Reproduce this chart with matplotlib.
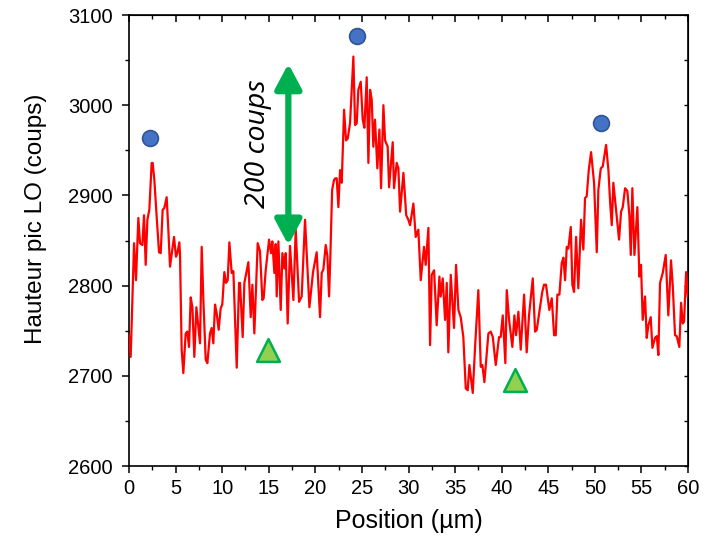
import matplotlib
matplotlib.use("Agg")
import matplotlib.pyplot as plt
from matplotlib.ticker import MultipleLocator

plt.rcParams['font.family'] = ['Liberation Sans', 'DejaVu Sans']

# ---- data ----
position = [0.0, 0.18, 0.54, 0.75, 1.0, 1.18, 1.43, 1.61, 1.79, 1.97, 2.18, 2.43, 2.54, 2.72,
            2.97, 3.22, 3.40, 3.61, 3.79, 4.04, 4.22, 4.40, 4.83, 5.04, 5.19, 5.40, 5.47, 5.65,
            5.83, 6.08, 6.26, 6.44, 6.62, 6.80, 7.01, 7.23, 7.44, 7.62, 7.80, 7.98, 8.23, 8.41,
            8.69, 8.87, 9.05, 9.23, 9.41, 9.62, 9.84, 10.01, 10.23, 10.41, 10.59, 10.77, 11.02,
            11.20, 11.56, 11.81, 11.91, 12.20, 12.38, 12.81, 13.06, 13.24, 13.45, 13.81, 14.06,
            14.31, 14.45, 14.67, 15.03, 15.24, 15.38, 15.60, 15.74, 15.85, 16.03, 16.28, 16.46,
            16.67, 16.82, 17.03, 17.28, 17.64, 17.89, 18.25, 18.53, 18.89, 19.36, 19.75, 20.14,
            20.50, 20.68, 20.86, 21.11, 21.29, 21.47, 21.60, 21.80, 22.00, 22.15, 22.29, 22.47,
            22.65, 22.83, 23.08, 23.29, 23.47, 23.72, 24.08, 24.26, 24.44, 24.61, 24.87, 25.08,
            25.26, 25.51, 25.69, 25.87, 26.05, 26.22, 26.40, 26.65, 26.87, 27.05, 27.30, 27.48,
            27.76, 27.91, 28.30, 28.44, 28.73, 28.91, 29.09, 29.45, 29.75, 29.98, 30.16, 30.52,
            30.77, 31.05, 31.31, 31.66, 31.84, 32.13, 32.31, 32.49, 32.74, 33.02, 33.31, 33.45,
            33.67, 33.92, 34.10, 34.27, 34.53, 34.88, 35.10, 35.35, 35.60, 35.88, 36.14, 36.35,
            36.53, 36.89, 37.14, 37.49, 37.75, 37.92, 38.14, 38.57, 38.82, 39.04, 39.36, 39.71,
            39.89, 40.11, 40.39, 40.54, 40.79, 41.14, 41.36, 41.54, 41.79, 42.04, 42.40, 42.68,
            42.93, 43.33, 43.58, 43.76, 44.11, 44.35, 44.54, 44.75, 45.11, 45.37, 45.62, 45.80,
            45.97, 46.19, 46.44, 46.62, 46.80, 46.98, 47.15, 47.41, 47.58, 47.76, 47.98, 48.22,
            48.51, 48.76, 48.94, 49.12, 49.34, 49.59, 49.91, 50.20, 50.37, 50.63, 50.84, 51.20,
            51.45, 51.63, 51.81, 51.98, 52.27, 52.59, 52.81, 52.99, 53.24, 53.48, 53.70, 53.85,
            54.02, 54.24, 54.56, 54.77, 54.95, 55.13, 55.38, 55.56, 55.74, 55.99, 56.17, 56.45,
            56.64, 56.81, 56.99, 57.28, 57.60, 57.88, 58.17, 58.36, 58.60, 58.78, 59.06, 59.25,
            59.43, 59.57, 59.79, 59.97]
hauteur = [2745, 2721, 2847, 2806, 2875, 2847, 2845, 2878, 2823, 2873, 2884, 2936, 2936, 2917,
           2876, 2837, 2836, 2884, 2886, 2898, 2862, 2821, 2854, 2832, 2836, 2848, 2836, 2729,
           2703, 2747, 2749, 2732, 2787, 2776, 2721, 2776, 2754, 2736, 2843, 2784, 2718, 2714,
           2747, 2753, 2736, 2779, 2769, 2751, 2775, 2779, 2815, 2803, 2806, 2848, 2814, 2816,
           2709, 2803, 2803, 2743, 2803, 2826, 2765, 2801, 2747, 2847, 2838,
           2784, 2786, 2817, 2851, 2836, 2849, 2814, 2846, 2788, 2849, 2773, 2836,
           2819, 2836, 2758, 2844, 2784, 2862, 2782, 2788, 2873, 2776, 2815, 2837,
           2765, 2814, 2818, 2845, 2833, 2788, 2830, 2906, 2917, 2919, 2919, 2887,
           2928, 2914, 2995, 2961, 2963, 2980, 3054, 2978, 2980, 3017, 3026, 2984,
           2975, 3031, 2936, 3017, 3006, 2954, 2984, 2930, 2973, 2908, 3000, 2961,
           2954, 2909, 2959, 2908, 2936, 2930, 2882, 2925, 2878, 2873, 2867, 2891,
           2854, 2862, 2806, 2843, 2823, 2864, 2734, 2812, 2817, 2756, 2810, 2788,
           2808, 2762, 2803, 2726, 2812, 2753, 2823, 2773, 2765, 2743, 2686, 2684,
           2712, 2681, 2732, 2795, 2710, 2712, 2693, 2747, 2749, 2743, 2712, 2743,
           2743, 2767, 2714, 2795, 2762, 2732, 2767, 2745, 2771, 2729, 2790, 2726,
           2767, 2808, 2749, 2751, 2776, 2793, 2801, 2801, 2773, 2786, 2745, 2745,
           2790, 2790, 2825, 2831, 2806, 2843, 2841, 2865, 2801, 2793, 2854, 2797,
           2873, 2840, 2897, 2899, 2928, 2948, 2914, 2837, 2906, 2930, 2932, 2956,
           2928, 2893, 2867, 2914, 2884, 2851, 2882, 2887, 2908, 2905, 2878, 2834,
           2908, 2834, 2887, 2810, 2823, 2762, 2788, 2742, 2756, 2765, 2731, 2742,
           2744, 2723, 2803, 2814, 2834, 2767, 2828, 2799, 2745, 2744, 2732, 2781,
           2758, 2760, 2815, 2788]

maxima_x = [2.25, 24.47, 50.7]
maxima_y = [2964, 3077, 2980]
minima_x = [14.9, 41.45]
minima_y = [2729, 2695]

arrow_x = 17.1
arrow_y = [2845, 3046]
arrow_text = "200 coups"

# ---- figure ----
fig = plt.figure(figsize=(7.05, 5.46), dpi=100)
ax = fig.add_axes([0.183, 0.1465, 0.793, 0.826])

ax.plot(position, hauteur, color='#FF0000', lw=1.6, zorder=3)
ax.scatter(maxima_x, maxima_y, s=130, color='#4472C4', edgecolors='#2F5597',
           linewidths=1.2, zorder=4)
ax.scatter(minima_x, minima_y, s=270, marker='^', color='#92D050', edgecolors='#00B050',
           linewidths=1.8, zorder=4)

ax.annotate('', xy=(arrow_x, arrow_y[1]), xytext=(arrow_x, arrow_y[0]),
            arrowprops=dict(arrowstyle='<|-|>,head_length=1.5,head_width=0.8',
                            color='#00B050', lw=4.5, shrinkA=0, shrinkB=0), zorder=5)
ax.text(13.85, 2957, arrow_text, rotation=90, ha='center', va='center',
        fontsize=20.5, style='italic', family=['Open Sans', 'DejaVu Sans'], color='black')

ax.set_xlim(0, 60)
ax.set_ylim(2600, 3100)
ax.xaxis.set_major_locator(MultipleLocator(5))
ax.xaxis.set_minor_locator(MultipleLocator(2.5))
ax.yaxis.set_major_locator(MultipleLocator(100))
ax.yaxis.set_minor_locator(MultipleLocator(50))
ax.tick_params(which='major', direction='out', length=5, width=1.1, labelsize=14.5)
ax.tick_params(which='minor', direction='out', length=3, width=1.0)
ax.tick_params(axis='x', which='major', pad=4)
ax.tick_params(axis='y', which='major', pad=7)

for s in ax.spines.values():
    s.set_linewidth(1.2)

top = ax.secondary_xaxis('top')
top.xaxis.set_major_locator(MultipleLocator(5))
top.xaxis.set_minor_locator(MultipleLocator(2.5))
top.tick_params(which='major', direction='in', length=5, width=1.1, labeltop=False)
top.tick_params(which='minor', direction='in', length=3, width=1.0)
right = ax.secondary_yaxis('right')
right.yaxis.set_major_locator(MultipleLocator(50))
right.tick_params(which='major', direction='in', length=3, width=1.0, labelright=False)

ax.set_xlabel('Position (µm)', fontsize=18, labelpad=8)
ax.set_ylabel('Hauteur pic LO (coups)', fontsize=17.5)
ax.yaxis.set_label_coords(-0.147, 0.548)

fig.savefig('out.png', dpi=100)
